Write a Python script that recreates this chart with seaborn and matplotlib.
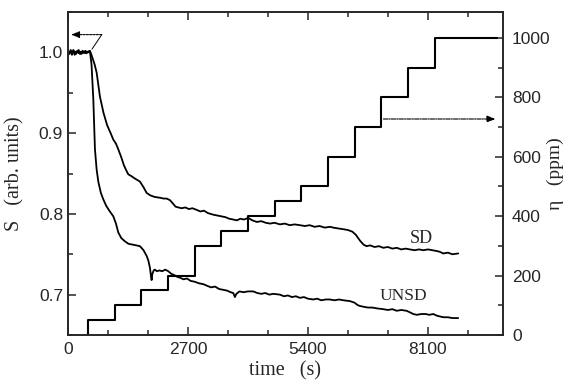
import matplotlib
matplotlib.use("Agg")
import matplotlib.pyplot as plt
import seaborn as sns
import pandas as pd

# S signal, sample SD (upper curve)
sd_time = [0, 30, 60, 90, 120, 150, 180, 210, 240, 270, 300, 330, 360, 390, 420, 450, 495,
           540, 600, 645, 720, 800, 880, 960, 1020, 1080, 1132, 1200, 1260, 1320, 1357, 1420,
           1500, 1560, 1620, 1700, 1770, 1850, 1950, 2070, 2150, 2220, 2295, 2360, 2420, 2482,
           2560, 2640, 2720, 2800, 2895, 2980, 3060, 3150, 3270, 3360, 3450, 3540, 3630, 3720,
           3800, 3880, 3960, 4057, 4150, 4250, 4350, 4450, 4550, 4650, 4770, 4880, 4990, 5100,
           5220, 5330, 5440, 5550, 5660, 5780, 5895, 5970, 6080, 6200, 6300, 6400, 6480, 6570,
           6650, 6720, 6800, 6900, 7000, 7095, 7200, 7300, 7400, 7500, 7600, 7695, 7800, 7900,
           8000, 8100, 8200, 8300, 8370, 8445, 8550, 8650, 8782]
sd_signal = [1.000, 0.998, 1.003, 0.999, 1.002, 0.997, 1.001, 1.000, 1.003, 0.998, 1.001, 0.999,
             1.000, 1.002, 0.999, 1.001, 1.002,
             0.995, 0.985, 0.975, 0.945, 0.925, 0.910, 0.900, 0.892, 0.887, 0.880, 0.870, 0.860,
             0.853, 0.849, 0.847, 0.844, 0.842, 0.840, 0.833, 0.826, 0.823, 0.821, 0.820, 0.819,
             0.819, 0.817, 0.813, 0.809, 0.808, 0.807, 0.808, 0.806, 0.807, 0.805, 0.803, 0.804,
             0.801, 0.799, 0.798, 0.797, 0.796, 0.794, 0.793, 0.792, 0.794, 0.793, 0.795, 0.792,
             0.790, 0.791, 0.789, 0.788, 0.789, 0.787, 0.788, 0.786, 0.787, 0.786, 0.785, 0.786,
             0.784, 0.785, 0.783, 0.784, 0.783, 0.782, 0.781, 0.780, 0.778, 0.774, 0.767, 0.762,
             0.760, 0.761, 0.759, 0.760, 0.758, 0.759, 0.757, 0.758, 0.756, 0.757, 0.756, 0.755,
             0.756, 0.755, 0.756, 0.755, 0.754, 0.753, 0.751, 0.752, 0.750, 0.751]

# S signal, sample UNSD (lower curve)
unsd_time = [0, 30, 60, 90, 120, 150, 180, 210, 240, 270, 300, 330, 360, 390, 420, 450, 495,
             530, 570, 607, 645, 682, 740, 795, 860, 930, 1020, 1080, 1132, 1200, 1282, 1360,
             1450, 1540, 1620, 1700, 1770, 1810, 1845, 1870, 1882, 1900, 1930, 1957, 2000, 2060,
             2120, 2190, 2257, 2320, 2400, 2460, 2520, 2600, 2680, 2760, 2850, 2950, 3045, 3130,
             3220, 3310, 3400, 3490, 3580, 3660, 3720, 3757, 3790, 3860, 3950, 4050, 4170, 4260,
             4350, 4440, 4530, 4620, 4770, 4860, 4950, 5040, 5130, 5220, 5310, 5400, 5520, 5610,
             5700, 5800, 5895, 6000, 6100, 6200, 6345, 6450, 6520, 6570, 6650, 6750, 6850, 6950,
             7095, 7200, 7300, 7400, 7500, 7620, 7700, 7770, 7850, 7950, 8050, 8130, 8220, 8300,
             8370, 8450, 8550, 8650, 8782]
unsd_signal = [1.002, 0.999, 1.001, 0.997, 1.003, 1.000, 0.998, 1.002, 0.999, 1.001, 0.998, 1.002,
               1.000, 0.999, 1.001, 1.000, 1.001,
               0.985, 0.942, 0.880, 0.855, 0.840, 0.826, 0.818, 0.810, 0.804, 0.797, 0.788, 0.777,
               0.770, 0.766, 0.763, 0.762, 0.761, 0.760, 0.755, 0.748, 0.742, 0.733, 0.722, 0.718,
               0.726, 0.730, 0.731, 0.729, 0.730, 0.729, 0.731, 0.729, 0.726, 0.724, 0.722, 0.721,
               0.719, 0.720, 0.717, 0.716, 0.714, 0.713, 0.711, 0.709, 0.710, 0.707, 0.706, 0.705,
               0.703, 0.702, 0.697, 0.701, 0.704, 0.703, 0.704, 0.704, 0.702, 0.701, 0.702, 0.700,
               0.701, 0.700, 0.698, 0.699, 0.697, 0.698, 0.696, 0.697, 0.695, 0.694, 0.695, 0.693,
               0.694, 0.694, 0.693, 0.694, 0.693, 0.692, 0.690, 0.687, 0.686, 0.685, 0.684, 0.684,
               0.683, 0.682, 0.681, 0.682, 0.680, 0.681, 0.680, 0.678, 0.676, 0.675, 0.676, 0.676,
               0.675, 0.676, 0.674, 0.673, 0.672, 0.672, 0.671, 0.671]

# gas concentration steps (right axis)
eta_time = [450, 450, 1050, 1650, 2250, 2850, 3450, 4050, 4650, 5250, 5850, 6450, 7050, 7650,
            8250, 9650]
eta_ppm = [0, 50, 100, 150, 200, 300, 350, 400, 450, 500, 600, 700, 800, 900, 1000, 1000]

sd = pd.DataFrame({"t": sd_time, "S": sd_signal})
unsd = pd.DataFrame({"t": unsd_time, "S": unsd_signal})
eta = pd.DataFrame({"t": eta_time, "ppm": eta_ppm})

sns.set_style("ticks")
plt.rcParams["font.family"] = ["Liberation Sans", "DejaVu Sans"]
plt.rcParams["xtick.direction"] = "in"
plt.rcParams["ytick.direction"] = "in"

fig = plt.figure(figsize=(5.67, 3.83), dpi=100)
ax = fig.add_axes([0.1199, 0.1253, 0.7672, 0.8433])
ax2 = ax.twinx()

sns.lineplot(data=sd, x="t", y="S", ax=ax, color="k", lw=1.3, estimator=None, sort=False)
sns.lineplot(data=unsd, x="t", y="S", ax=ax, color="k", lw=1.3, estimator=None, sort=False)
sns.lineplot(data=eta, x="t", y="ppm", ax=ax2, color="k", lw=1.5, estimator=None, sort=False,
             drawstyle="steps-post")

ax.set_xlim(0, 9790)
ax.set_ylim(0.65, 1.05)
ax2.set_ylim(0, 1087)

ax.set_xticks([0, 2700, 5400, 8100])
ax.set_xticks(range(0, 9790, 900), minor=True)
ax.set_yticks([0.7, 0.8, 0.9, 1.0])
ax.set_yticks([0.65, 0.75, 0.85, 0.95, 1.05], minor=True)
ax.set_yticklabels(["0.7", "0.8", "0.9", "1.0"])
ax2.set_yticks([0, 200, 400, 600, 800, 1000])
ax2.set_yticks([100, 300, 500, 700, 900], minor=True)

ax.tick_params(axis="both", which="major", length=6, width=1.1, labelsize=12.5, top=True)
ax.tick_params(axis="both", which="minor", length=3.5, width=1.1, top=True)
ax.tick_params(axis="y", pad=3.5)
ax.tick_params(axis="x", pad=5)
ax2.tick_params(axis="y", which="major", length=6, width=1.1, labelsize=12.5, pad=6.5)
ax2.tick_params(axis="y", which="minor", length=3.5, width=1.1)
for a in (ax, ax2):
    for s in a.spines.values():
        s.set_linewidth(1.2)
        s.set_visible(True)

serif = ["Liberation Serif", "DejaVu Serif"]
ax.set_xlabel("time   (s)", family=serif, fontsize=14.5)
ax.set_ylabel("S   (arb. units)", family=serif, fontsize=14.5)
ax2.set_ylabel("η   (ppm)", family=serif, fontsize=14, rotation=90)
ax.xaxis.set_label_coords(0.5, -0.11)
ax.xaxis.label.set_va("center")
ax.yaxis.set_label_coords(-0.122, 0.5)
ax.yaxis.label.set_va("center")
ax2.yaxis.set_label_coords(1.12, 0.5)
ax2.yaxis.label.set_va("center")

ax.text(7960, 0.770, "SD", family=serif, fontsize=13, ha="center", va="center")
ax.text(7540, 0.698, "UNSD", family=serif, fontsize=12.5, ha="center", va="center")

# arrows pointing to the relevant axes
ax.annotate("", xy=(70, 1.022), xytext=(760, 1.022),
            arrowprops=dict(arrowstyle="-|>,head_length=0.5,head_width=0.2", lw=0.8,
                            ls=(0, (2, 1)), color="k", shrinkA=0, shrinkB=0))
ax.annotate("", xy=(540, 1.004), xytext=(760, 1.022),
            arrowprops=dict(arrowstyle="-", lw=0.7, color="k", shrinkA=0, shrinkB=0))
ax2.annotate("", xy=(9620, 727), xytext=(7100, 727),
             arrowprops=dict(arrowstyle="-|>,head_length=0.5,head_width=0.2", lw=0.8,
                             ls=(0, (4, 1, 1, 1)), color="k", shrinkA=0, shrinkB=0))

fig.savefig("out.png", dpi=100)
